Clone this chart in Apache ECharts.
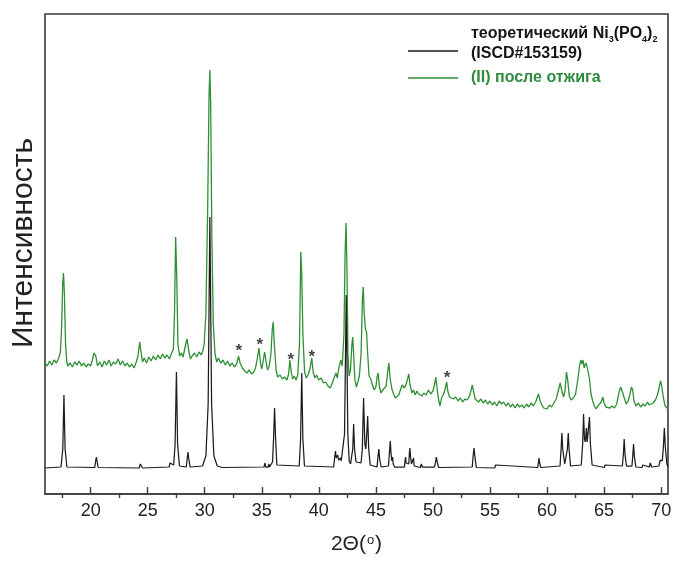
<!DOCTYPE html>
<html>
<head>
<meta charset="utf-8">
<script src="https://cdn.jsdelivr.net/npm/echarts@6/dist/echarts.min.js"></script>
<style>
  html, body { margin: 0; padding: 0; background: #fff; }
  #chart { width: 681px; height: 563px; }
</style>
</head>
<body>
<div id="chart"></div>
<script>
// X-ray diffraction patterns, 2Θ in degrees vs. intensity (arbitrary units, patterns offset vertically)
const xMin = 16;
const xMax = 70.6;
const yMin = 0;
const yMax = 480;

const labelValues = [20, 25, 30, 35, 40, 45, 50, 55, 60, 65, 70];
const majorTicks = [20, 25, 30, 35, 40, 45, 50, 55, 60, 65, 70];
const minorTicks = [17.5, 22.5, 27.5, 32.5, 37.5, 42.5, 47.5, 52.5, 57.5, 62.5, 67.5];

const theoName = 'теоретический Ni3(PO4)2 (ISCD#153159)';
const annealName = '(II) после отжига';

// calculated pattern of Ni3(PO4)2
const theoretical = [
  [16, 26],
  [17.4, 27], [17.56, 45], [17.66, 99], [17.76, 45], [17.92, 27],
  [20.36, 26.5], [20.44, 33], [20.5, 37], [20.56, 33], [20.66, 26.5],
  [24.26, 26], [24.35, 30], [24.4, 32], [24.46, 30], [24.56, 26],
  [26.88, 27], [26.96, 31], [27.0, 33], [27.06, 30], [27.28, 29], [27.4, 50], [27.52, 122], [27.62, 50], [27.78, 28],
  [28.38, 27], [28.47, 36], [28.53, 42], [28.59, 36], [28.72, 27],
  [29.8, 28], [30.1, 38], [30.3, 90], [30.45, 277], [30.6, 90], [30.8, 38], [31.1, 28], [31.5, 26.5],
  [35.2, 27], [35.28, 31], [35.34, 27], [35.55, 27], [35.62, 30], [35.68, 27],
  [35.94, 32], [36.03, 55], [36.12, 86], [36.21, 55], [36.32, 29],
  [38.28, 28], [38.4, 55], [38.5, 121], [38.6, 55], [38.74, 28],
  [41.3, 27], [41.4, 38], [41.46, 43], [41.52, 36], [41.6, 35], [41.66, 39], [41.72, 34], [41.82, 33], [41.9, 36], [41.96, 33],
  [42.1, 35], [42.25, 60], [42.4, 199], [42.54, 60], [42.66, 33], [42.78, 30],
  [42.88, 30], [42.97, 45], [43.05, 70], [43.13, 45], [43.26, 32],
  [43.7, 31], [43.81, 45], [43.92, 96], [44.03, 50], [44.12, 45], [44.2, 60], [44.28, 78], [44.37, 45], [44.5, 29],
  [45.1, 27], [45.19, 38], [45.26, 45], [45.33, 35], [45.46, 27],
  [46.1, 28], [46.19, 42], [46.26, 53], [46.33, 40], [46.4, 33], [46.46, 37], [46.52, 30], [46.65, 27],
  [47.5, 27], [47.56, 34], [47.6, 37], [47.65, 31], [47.88, 30], [47.94, 42], [47.98, 46], [48.03, 38], [48.12, 30],
  [48.22, 30], [48.3, 36], [48.36, 28],
  [48.9, 26.5], [48.98, 30], [49.02, 31], [49.08, 27],
  [50.14, 27], [50.24, 33], [50.3, 37], [50.37, 32], [50.5, 26.5],
  [53.44, 27], [53.54, 40], [53.6, 46], [53.67, 38], [53.8, 26.5],
  [55.42, 26], [55.48, 29], [55.52, 30], [55.58, 27],
  [59.18, 26.5], [59.26, 33], [59.3, 36], [59.35, 31], [59.45, 26.5],
  [61.14, 28], [61.23, 45], [61.3, 61], [61.37, 45], [61.55, 30], [61.78, 45], [61.86, 61], [61.93, 45], [62.06, 28],
  [63.0, 29], [63.12, 50], [63.2, 80], [63.28, 55], [63.36, 52], [63.45, 66], [63.52, 52], [63.62, 50], [63.72, 77], [63.8, 50], [63.95, 29],
  [65.02, 26.5], [65.08, 29], [65.12, 30], [65.18, 27],
  [66.6, 28], [66.69, 40], [66.76, 55], [66.83, 40], [66.96, 28],
  [67.44, 28], [67.51, 38], [67.58, 50], [67.65, 38], [67.78, 27],
  [68.32, 26.5], [68.4, 29], [68.45, 30], [68.5, 27],
  [68.95, 27], [69.05, 31], [69.1, 30], [69.16, 27],
  [69.8, 28], [69.92, 34], [69.98, 33], [70.1, 33], [70.2, 48], [70.28, 66], [70.36, 48], [70.5, 30], [70.6, 27]
];

// measured pattern of sample (II) after annealing
const annealed = [
  [16.0, 131], [16.2, 128], [16.4, 133], [16.6, 129], [16.8, 134], [17.0, 131], [17.2, 136], [17.35, 142],
  [17.45, 165], [17.55, 210], [17.62, 221], [17.7, 200], [17.8, 150], [17.9, 133],
  [18.0, 128], [18.2, 131], [18.4, 127], [18.6, 132], [18.8, 129], [19.0, 133], [19.2, 128], [19.4, 131],
  [19.6, 127], [19.8, 130], [20.0, 128], [20.15, 134], [20.3, 141], [20.45, 138], [20.6, 128], [20.8, 132],
  [21.0, 127], [21.2, 133], [21.4, 129], [21.6, 134], [21.8, 128], [22.0, 132], [22.2, 130], [22.4, 135],
  [22.6, 129], [22.8, 133], [23.0, 128], [23.2, 131], [23.4, 127], [23.6, 130], [23.8, 126], [24.0, 132],
  [24.15, 138], [24.3, 152], [24.4, 143], [24.55, 132], [24.7, 136], [24.9, 131], [25.1, 137], [25.3, 133],
  [25.5, 138], [25.7, 134], [25.9, 139], [26.1, 135], [26.3, 140], [26.5, 136], [26.7, 139], [26.9, 135],
  [27.1, 141], [27.25, 145], [27.35, 180], [27.45, 257], [27.55, 215], [27.65, 150], [27.8, 138], [27.95, 141],
  [28.1, 137], [28.3, 148], [28.45, 155], [28.6, 143], [28.75, 135], [28.9, 138], [29.1, 141], [29.3, 137],
  [29.5, 142], [29.7, 139], [29.85, 144], [29.95, 150], [30.1, 180], [30.25, 280], [30.38, 400], [30.45, 424],
  [30.52, 390], [30.62, 260], [30.75, 170], [30.9, 140], [31.05, 132], [31.2, 136], [31.4, 131], [31.6, 134],
  [31.8, 129], [32.0, 133], [32.2, 128], [32.4, 131], [32.6, 127], [32.8, 130], [32.96, 138], [33.1, 131],
  [33.3, 126], [33.5, 123], [33.7, 121], [33.9, 124], [34.1, 120], [34.3, 122], [34.45, 126], [34.6, 135],
  [34.75, 146], [34.9, 130], [35.0, 125], [35.12, 133], [35.25, 142], [35.38, 132], [35.5, 124], [35.65, 128],
  [35.8, 140], [35.92, 165], [36.0, 172], [36.1, 150], [36.25, 124], [36.4, 117], [36.6, 119], [36.8, 115],
  [37.0, 117], [37.2, 114], [37.35, 120], [37.46, 134], [37.58, 122], [37.7, 115], [37.85, 118], [38.0, 114],
  [38.15, 119], [38.3, 150], [38.42, 242], [38.5, 220], [38.6, 160], [38.75, 122], [38.9, 116], [39.05, 119],
  [39.2, 124], [39.38, 136], [39.5, 122], [39.65, 116], [39.8, 119], [40.0, 114], [40.2, 116], [40.4, 111],
  [40.6, 112], [40.8, 108], [41.0, 106], [41.15, 110], [41.3, 115], [41.5, 121], [41.62, 116], [41.75, 126],
  [41.93, 134], [42.05, 128], [42.2, 160], [42.3, 240], [42.38, 271], [42.46, 230], [42.55, 140], [42.65, 118],
  [42.78, 125], [42.9, 150], [42.97, 157], [43.05, 140], [43.15, 115], [43.28, 107], [43.42, 112], [43.55, 118],
  [43.7, 140], [43.82, 195], [43.89, 207], [43.98, 180], [44.08, 165], [44.18, 162], [44.28, 140], [44.4, 118],
  [44.55, 115], [44.7, 109], [44.85, 104], [45.0, 107], [45.1, 117], [45.2, 121], [45.3, 108], [45.45, 101],
  [45.6, 104], [45.75, 102], [45.9, 108], [46.05, 124], [46.14, 131], [46.25, 115], [46.4, 105], [46.55, 100],
  [46.7, 96], [46.85, 94], [47.0, 99], [47.15, 104], [47.3, 109], [47.5, 106], [47.65, 110], [47.8, 116],
  [47.88, 120], [48.0, 109], [48.15, 101], [48.3, 104], [48.45, 99], [48.6, 103], [48.75, 100], [48.9, 102],
  [49.05, 98], [49.2, 101], [49.4, 99], [49.6, 104], [49.8, 100], [50.0, 103], [50.15, 110], [50.25, 117],
  [50.38, 104], [50.5, 94], [50.62, 88], [50.75, 96], [50.9, 99], [51.05, 104], [51.2, 112], [51.3, 103],
  [51.45, 97], [51.6, 99], [51.8, 95], [52.0, 97], [52.2, 93], [52.4, 96], [52.6, 92], [52.8, 95],
  [53.0, 94], [53.2, 98], [53.35, 104], [53.45, 109], [53.55, 103], [53.7, 95], [53.85, 97], [54.0, 92],
  [54.2, 95], [54.4, 91], [54.6, 94], [54.8, 90], [55.0, 93], [55.2, 89], [55.4, 92], [55.6, 88],
  [55.8, 93], [56.0, 90], [56.2, 92], [56.4, 88], [56.6, 91], [56.8, 87], [57.0, 90], [57.2, 86],
  [57.4, 90], [57.6, 87], [57.8, 89], [58.0, 86], [58.2, 90], [58.4, 87], [58.6, 91], [58.8, 88],
  [59.0, 92], [59.15, 97], [59.25, 100], [59.4, 93], [59.55, 89], [59.7, 86], [59.85, 88], [60.0, 85],
  [60.2, 89], [60.4, 87], [60.6, 91], [60.8, 95], [61.0, 104], [61.15, 111], [61.3, 103], [61.45, 97],
  [61.58, 104], [61.7, 122], [61.8, 115], [61.95, 98], [62.1, 94], [62.3, 96], [62.5, 100], [62.7, 115],
  [62.85, 128], [62.95, 134], [63.05, 130], [63.15, 134], [63.25, 126], [63.4, 131], [63.5, 128], [63.6, 126],
  [63.72, 115], [63.85, 100], [64.0, 93], [64.15, 88], [64.3, 85], [64.45, 88], [64.6, 86], [64.75, 92],
  [64.88, 97], [65.0, 91], [65.15, 87], [65.3, 89], [65.5, 86], [65.7, 88], [65.9, 86], [66.1, 90],
  [66.3, 101], [66.45, 107], [66.55, 104], [66.65, 106], [66.8, 95], [66.95, 90], [67.1, 93], [67.25, 99],
  [67.4, 107], [67.5, 104], [67.62, 93], [67.8, 88], [68.0, 91], [68.2, 87], [68.4, 90], [68.6, 88],
  [68.8, 92], [68.95, 89], [69.1, 87], [69.3, 91], [69.5, 94], [69.7, 100], [69.85, 108], [69.95, 113],
  [70.05, 108], [70.2, 96], [70.35, 88], [70.5, 86], [70.6, 85]
];

// reflections of an impurity phase, marked with asterisks
const impurityMarks = [[32.98, 147], [34.82, 153], [37.54, 138], [39.39, 141], [51.23, 120]];

const axisColor = '#3a3a3a';
const textColor = '#222';
const greenColor = '#2f8f34';
const blackColor = '#1c1c1c';
const fontFamily = '"Liberation Sans", Arial, sans-serif';

const chart = echarts.init(document.getElementById('chart'), null, { renderer: 'canvas' });

chart.setOption({
  animation: false,
  backgroundColor: '#fff',
  grid: {
    left: 45, right: 13, top: 14, bottom: 69,
    show: true, borderColor: axisColor, borderWidth: 1.6, backgroundColor: 'transparent'
  },
  legend: [
    {
      data: [theoName],
      left: 408, top: 26, padding: 0,
      icon: 'rect', itemWidth: 50, itemHeight: 1.3,
      itemStyle: { color: blackColor },
      formatter: function () {
        return '{b|теоретический Ni}{s|3}{b|(PO}{s|4}{b|)}{s|2}\n{b|(ISCD#153159)}\n{e| }';
      },
      textStyle: {
        padding: [0, 0, 0, 8],
        rich: {
          b: { fontFamily: fontFamily, fontSize: 16, fontWeight: 'bold', color: '#151515', lineHeight: 20 },
          s: { fontFamily: fontFamily, fontSize: 9, fontWeight: 'bold', color: '#151515', lineHeight: 20, verticalAlign: 'bottom', padding: [6, 0, 0, 0] },
          e: { fontSize: 10, lineHeight: 14 }
        }
      }
    },
    {
      data: [annealName],
      left: 408, top: 68, padding: 0,
      icon: 'rect', itemWidth: 50, itemHeight: 1.3,
      itemStyle: { color: greenColor },
      textStyle: {
        padding: [0, 0, 0, 8],
        fontFamily: fontFamily, fontSize: 16, fontWeight: 'bold', color: '#2e8a3c', lineHeight: 20
      }
    }
  ],
  xAxis: [
    {
      type: 'value', min: xMin, max: xMax, position: 'bottom',
      axisLine: { show: true, onZero: false, lineStyle: { color: axisColor, width: 1.6 } },
      axisTick: { show: true, inside: true, length: 7, customValues: majorTicks, lineStyle: { color: axisColor, width: 1.4 } },
      axisLabel: { customValues: labelValues, fontSize: 18, color: textColor, fontFamily: fontFamily, margin: 8 },
      splitLine: { show: false },
      name: '2Θ({sup|o})',
      nameLocation: 'middle', nameGap: 40,
      nameTextStyle: {
        fontFamily: fontFamily, fontSize: 21, color: textColor,
        rich: { sup: { fontFamily: fontFamily, fontSize: 13, color: textColor, verticalAlign: 'top', padding: [0, 1, 8, 1] } }
      }
    },
    {
      type: 'value', min: xMin, max: xMax, position: 'bottom',
      axisLine: { show: false },
      axisTick: { show: true, inside: false, length: 4, customValues: minorTicks, lineStyle: { color: axisColor, width: 1.4 } },
      axisLabel: { show: false },
      splitLine: { show: false }
    }
  ],
  yAxis: {
    type: 'value', min: yMin, max: yMax,
    axisLine: { show: false }, axisTick: { show: false }, axisLabel: { show: false }, splitLine: { show: false },
    name: 'Интенсивность', nameLocation: 'middle', nameGap: 6,
    nameTextStyle: { fontFamily: fontFamily, fontSize: 30, color: textColor, padding: [0, 0, 0, 22] }
  },
  series: [
    {
      name: annealName, type: 'line', data: annealed, xAxisIndex: 0,
      symbol: 'none', clip: true,
      lineStyle: { color: greenColor, width: 1.3 }, itemStyle: { color: greenColor }, z: 2
    },
    {
      name: theoName, type: 'line', data: theoretical, xAxisIndex: 0,
      symbol: 'none', clip: true,
      lineStyle: { color: blackColor, width: 1.25 }, itemStyle: { color: blackColor }, z: 3
    },
    {
      type: 'scatter', data: impurityMarks, xAxisIndex: 0,
      symbolSize: 1, itemStyle: { color: 'rgba(0,0,0,0)' },
      label: { show: true, position: 'inside', formatter: '*', fontSize: 17, fontWeight: 'bold', color: '#111', fontFamily: fontFamily, offset: [0, 4] },
      z: 4, silent: true
    }
  ]
});
</script>
</body>
</html>
